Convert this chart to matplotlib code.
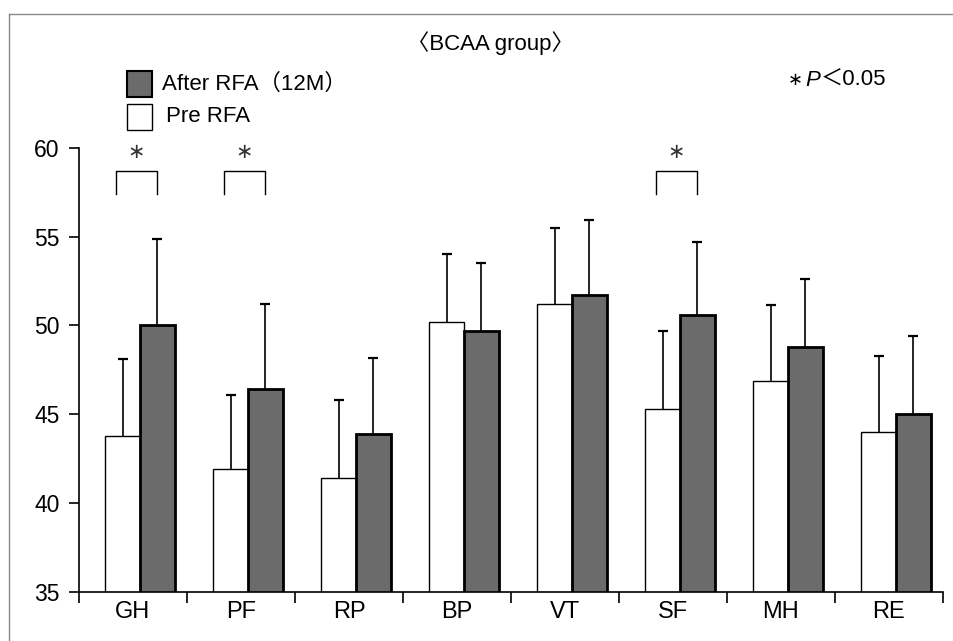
import numpy as np
import matplotlib
matplotlib.use('Agg')
import matplotlib.pyplot as plt
from matplotlib.patches import Rectangle
from matplotlib.lines import Line2D

plt.rcParams['font.family'] = ['Liberation Sans', 'Noto Sans CJK JP', 'DejaVu Sans']

# data (SF-36 subscales, BCAA group)
cats = ['GH', 'PF', 'RP', 'BP', 'VT', 'SF', 'MH', 'RE']
pre = [43.75, 41.9, 41.4, 50.2, 51.2, 45.3, 46.85, 44.0]
pre_sd = [4.35, 4.2, 4.4, 3.8, 4.3, 4.4, 4.3, 4.3]
after = [50.0, 46.4, 43.9, 49.7, 51.7, 50.6, 48.8, 45.0]
after_sd = [4.9, 4.8, 4.25, 3.8, 4.25, 4.1, 3.8, 4.4]
sig = ['GH', 'PF', 'SF']
yticks = [35, 40, 45, 50, 55, 60]

W, H = 954, 641
fig = plt.figure(figsize=(W / 100, H / 100), dpi=100)

def fx(px):
    return px / W

def fy(py):
    return 1 - py / H

# axes placed so 35..60 maps onto the same pixels as the scan
ax = fig.add_axes([fx(79), fy(591.7), fx(943) - fx(79), fy(148) - fy(591.7)])
ax.set_xlim(0, 8)
ax.set_ylim(35, 60)

x = np.arange(len(cats))
w = 0.32
dark = '#6b6b6b'
xp = x + 0.405
xa = x + 0.725

ax.bar(xp, pre, w, color='white', edgecolor='black', linewidth=1.0, zorder=2)
ax.bar(xa, after, w, color=dark, edgecolor='black', linewidth=2.0, zorder=2)

# upper error bars only (SD)
pre_top = np.array(pre) + np.array(pre_sd)
after_top = np.array(after) + np.array(after_sd)
ax.vlines(xp, pre, pre_top, color='black', lw=1.2, zorder=1)
ax.vlines(xa, after, after_top, color='black', lw=1.2, zorder=1)
ax.plot(xp, pre_top, ls='none', marker='_', ms=7, mew=1.6, color='black')
ax.plot(xa, after_top, ls='none', marker='_', ms=7, mew=1.6, color='black')

# significance brackets
for c in sig:
    i = cats.index(c)
    ax.plot([i + 0.34, i + 0.34, i + 0.72, i + 0.72], [57.4, 58.7, 58.7, 57.4],
            color='black', lw=1.0, clip_on=False)
    ax.text(i + 0.53, 59.8, '∗', ha='center', va='center', fontsize=15,
            color='#333333', family=['DejaVu Sans'])

# axes styling
for s in ['top', 'right']:
    ax.spines[s].set_visible(False)
ax.spines['left'].set_linewidth(1.2)
ax.spines['bottom'].set_linewidth(1.2)
ax.set_yticks(yticks)
ax.tick_params(axis='y', direction='out', length=7, width=1.2, labelsize=16.5, pad=7)
ax.set_xticks(np.arange(0, 9))
ax.set_xticklabels([])
ax.tick_params(axis='x', which='major', direction='out', length=8, width=1.2)
ax.set_xticks(x + 0.5, minor=True)
ax.set_xticklabels(cats, minor=True, fontsize=17)
ax.tick_params(axis='x', which='minor', length=0, pad=7)

# title, legend and p-value note in pixel positions
fig.text(fx(490), fy(43), '〈BCAA group〉', ha='center', va='center', fontsize=16)

fig.add_artist(Rectangle((fx(127), fy(96.5)), fx(25), fy(0) - fy(25),
                         facecolor=dark, edgecolor='black', lw=1.5, transform=fig.transFigure))
fig.add_artist(Rectangle((fx(127), fy(130)), fx(25), fy(0) - fy(26),
                         facecolor='white', edgecolor='black', lw=1.0, transform=fig.transFigure))
fig.text(fx(162), fy(84), 'After RFA（12M）', ha='left', va='center', fontsize=16)
fig.text(fx(166), fy(117), 'Pre RFA', ha='left', va='center', fontsize=16)

fig.text(fx(795), fy(80), '∗', ha='center', va='center', fontsize=13, family=['DejaVu Sans'])
fig.text(fx(805), fy(80), 'P', ha='left', va='center', fontsize=16, style='italic')
fig.text(fx(821), fy(80), '＜0.05', ha='left', va='center', fontsize=16)

# thin frame of the scanned page
fig.add_artist(Line2D([fx(9), fx(9)], [fy(14), 0], color='#888888', lw=1.0))
fig.add_artist(Line2D([fx(9), 1], [fy(14), fy(14)], color='#888888', lw=1.0))

fig.savefig('out.png', dpi=100)
